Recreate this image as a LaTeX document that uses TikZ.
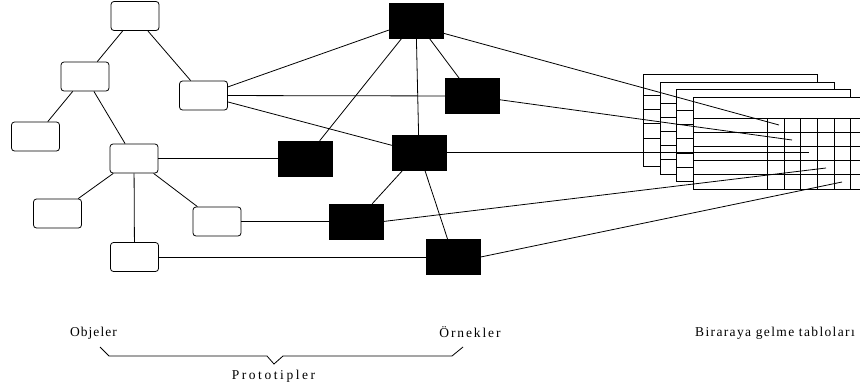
\documentclass[tikz,border=0pt]{standalone}
\usepackage{fontspec}
\setmainfont{Liberation Serif}
\begin{document}
\begin{tikzpicture}[x=1pt,y=-1pt,
  wbox/.style={draw, rounded corners=3pt, minimum width=48pt, minimum height=29pt, inner sep=0pt, line width=0.8pt},
  kbox/.style={draw, fill=black, minimum width=54pt, minimum height=35pt, inner sep=0pt},
  link/.style={line width=0.8pt},
  lbl/.style={font=\fontsize{13.5}{15}\selectfont\addfontfeature{LetterSpace=#1}, inner sep=0pt, anchor=base},
  lbl/.default=11,
  card/.pic={
    \path[draw, fill=white, line width=0.8pt] (0,0) rectangle (174,92);
    \foreach \r in {21,35.2,49.4,63.6,77.8}
      \draw[line width=0.8pt] (0,\r) -- (174,\r);
    \foreach \c in {0,...,5}
      \draw[line width=0.8pt] ({74+16.7*\c},21) -- ({74+16.7*\c},92);
  }
]
\clip (0,0) rectangle (860,391);

% stacked tables, back to front
\pic at (643.7,74.3) {card};
\pic at (660.2,81.9) {card};
\pic at (676.8,89.4) {card};
\pic at (693.3,97) {card};

% object hierarchy
\node[wbox] (A) at (135,16) {};
\node[wbox] (B) at (85,76.5) {};
\node[wbox] (C) at (203.5,95.5) {};
\node[wbox] (D) at (35.5,136.5) {};
\node[wbox] (E) at (134,158.5) {};
\node[wbox] (F) at (57.5,213.5) {};
\node[wbox] (G) at (217,221.5) {};
\node[wbox] (H) at (134.5,257) {};

% instances
\node[kbox] (K1) at (416,20.5) {};
\node[kbox] (K2) at (472.5,96) {};
\node[kbox] (K3) at (305.5,158.5) {};
\node[kbox] (K4) at (419,152.5) {};
\node[kbox] (K5) at (356,221.5) {};
\node[kbox] (K6) at (453.5,257) {};

% line ends inside the tables
\coordinate (t1) at (779,125);
\coordinate (t2) at (792,140);
\coordinate (t3) at (809,152.5);
\coordinate (t4) at (826,168);
\coordinate (t5) at (842,182);

\draw[link] (A) -- (B);
\draw[link] (A) -- (C);
\draw[link] (B) -- (D);
\draw[link] (B) -- (E);
\draw[link] (E) -- (F);
\draw[link] (E) -- (G);
\draw[link] (E) -- (H);
\draw[link] (E) -- (K3);
\draw[link] (G) -- (K5);
\draw[link] (H) -- (K6);
\draw[link] (C) -- (K1);
\draw[link] (C) -- (K2);
\draw[link] (C) -- (K4);
\draw[link] (K1) -- (K3);
\draw[link] (K1) -- (K4);
\draw[link] (K1) -- (K2);
\draw[link] (K4) -- (K5);
\draw[link] (K4) -- (K6);
\draw[link] (K1.-25) -- (t1);
\draw[link] (K2) -- (t2);
\draw[link] (K4) -- (t3);
\draw[link] (K5.east) -- (t4);
\draw[link] (K6.east) -- (t5);

% labels
\node[lbl=8] (obj) at (93.5,336) {Objeler};
\node[lbl=14] (orn) at (470,337) {Örnekler};
\node[lbl=10] (bir) at (775,336) {Biraraya gelme tabloları};
\node[lbl=19] (pro) at (273.5,379.5) {Prototipler};

% brace under the labels
\coordinate (b1) at (100,347);
\coordinate (b2) at (109,356);
\coordinate (b3) at (267,356);
\coordinate (b4) at (274,364);
\coordinate (b5) at (283,356);
\coordinate (b6) at (452,356);
\coordinate (b7) at (463,347);
\draw[link] (b1) -- (b2) -- (b3) -- (b4) -- (b5) -- (b6) -- (b7);
\end{tikzpicture}
\end{document}
